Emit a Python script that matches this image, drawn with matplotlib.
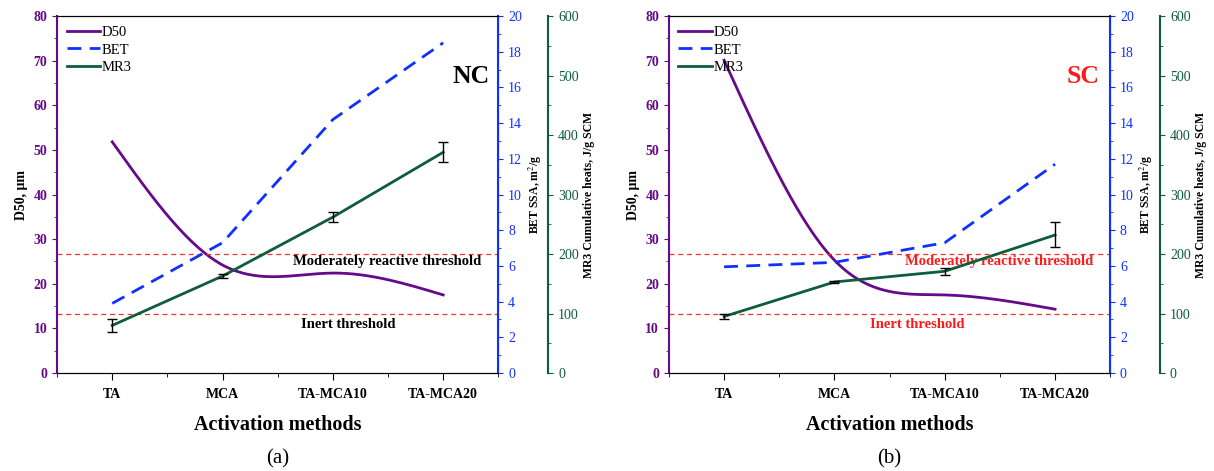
import numpy as np
import matplotlib.pyplot as plt

plt.rcParams['font.family'] = ['Liberation Serif', 'DejaVu Serif']
plt.rcParams['mathtext.fontset'] = 'stix'

methods = ["TA", "MCA", "TA-MCA10", "TA-MCA20"]

# panel (a) NC
nc_d50 = [51.8, 24.2, 22.4, 17.5]
nc_bet = [3.9, 7.3, 14.2, 18.5]
nc_mr3 = [80, 163, 262, 371]
nc_mr3_err = [11, 4, 9, 17]

# panel (b) SC
sc_d50 = [70.1, 25.3, 17.5, 14.3]
sc_bet = [5.95, 6.2, 7.3, 11.7]
sc_mr3 = [95, 153, 171, 232]
sc_mr3_err = [5, 2, 6, 21]

inert_mr3 = 100
moderate_mr3 = 200

purple = '#650a8a'
blue = '#1030ff'
green = '#0d5c3a'


def spline(xs, ys, n=200):
    # natural cubic spline, only used to draw the smooth D50 line through the points
    xs = np.asarray(xs, float)
    ys = np.asarray(ys, float)
    k = len(xs)
    h = np.diff(xs)
    A = np.zeros((k, k))
    b = np.zeros(k)
    A[0, 0] = 1
    A[-1, -1] = 1
    for i in range(1, k - 1):
        A[i, i - 1] = h[i - 1]
        A[i, i] = 2 * (h[i - 1] + h[i])
        A[i, i + 1] = h[i]
        b[i] = 6 * ((ys[i + 1] - ys[i]) / h[i] - (ys[i] - ys[i - 1]) / h[i - 1])
    m = np.linalg.solve(A, b)
    xx = np.linspace(xs[0], xs[-1], n)
    yy = np.zeros_like(xx)
    for j, x in enumerate(xx):
        i = min(np.searchsorted(xs, x, side='right') - 1, k - 2)
        t = x - xs[i]
        hi = h[i]
        bb = (ys[i + 1] - ys[i]) / hi - hi * (2 * m[i] + m[i + 1]) / 6
        yy[j] = ys[i] + bb * t + m[i] / 2 * t ** 2 + (m[i + 1] - m[i]) / (6 * hi) * t ** 3
    return xx, yy


def panel(left, d50, bet, mr3, err, tag, txt_color, letter):
    w = 0.3635
    ax = fig.add_axes([left, 0.208, w, 0.758])
    x = np.arange(len(methods))
    xx, yy = spline(x, d50)
    l1, = ax.plot(xx, yy, color=purple, lw=2, label='D50')
    ax.set_xlim(-0.5, 3.5)
    ax.set_ylim(0, 80)
    ax.set_xticks(x)
    ax.set_xticklabels(methods, fontsize=10, fontweight='bold')
    ax.set_xticks(np.arange(-0.5, 3.6, 0.5), minor=True)
    ax.set_yticks(np.arange(0, 81, 10))
    ax.set_yticks(np.arange(0, 81, 5), minor=True)
    ax.tick_params(axis='y', which='both', colors=purple, direction='out')
    ax.tick_params(axis='y', labelsize=10)
    for lab in ax.get_yticklabels():
        lab.set_fontweight('bold')
    ax.tick_params(axis='x', which='major', length=5, pad=6)
    ax.tick_params(axis='x', which='minor', length=3)
    ax.spines['left'].set_color(purple)
    ax.spines['left'].set_linewidth(1.5)
    ax.set_ylabel('D50, μm', fontsize=10, fontweight='bold', labelpad=4)
    ax.set_xlabel('Activation methods', fontsize=14.5, fontweight='bold', labelpad=10)

    for v in [inert_mr3, moderate_mr3]:
        ax.axhline(v / 600 * 80, color='#ee3333', ls=(0, (4, 3)), lw=0.9)
    ax.text(2.49, 24.9, 'Moderately reactive threshold', color=txt_color,
            fontsize=10.5, fontweight='bold', ha='center', va='center')
    ax.text(2.14 if tag == 'NC' else 1.75, 10.8, 'Inert threshold', color=txt_color,
            fontsize=10.5, fontweight='bold', ha='center', va='center')
    ax.text(3.25, 66.5, tag, color=txt_color, fontsize=18.5, fontweight='bold',
            ha='center', va='center')

    ax2 = ax.twinx()
    l2, = ax2.plot(x, bet, color=blue, lw=2, ls=(0, (5, 3)), label='BET')
    ax2.set_ylim(0, 20)
    ax2.set_yticks(np.arange(0, 21, 2))
    ax2.set_yticks(np.arange(0, 21, 1), minor=True)
    ax2.tick_params(axis='y', which='both', colors=blue, labelsize=10)
    ax2.spines['right'].set_color(blue)
    ax2.spines['right'].set_linewidth(1.5)
    ax2.spines['left'].set_visible(False)
    ax2.set_ylabel('BET SSA, m$^2$/g', fontsize=8.5, fontweight='bold', labelpad=3)

    ax3 = ax.twinx()
    ax3.spines['right'].set_position(('axes', 1 + 50 / 441))
    ax3.spines['left'].set_visible(False)
    ax3.spines['top'].set_visible(False)
    ax3.spines['bottom'].set_visible(False)
    l3, = ax3.plot(x, mr3, color=green, lw=2, label='MR3', zorder=3)
    ax3.errorbar(x, mr3, yerr=err, fmt='none', ecolor='black', elinewidth=1,
                 capsize=3.5, capthick=1, zorder=4)
    ax3.set_ylim(0, 600)
    ax3.set_yticks(np.arange(0, 601, 100))
    ax3.set_yticks(np.arange(0, 601, 50), minor=True)
    ax3.tick_params(axis='y', which='both', colors=green, labelsize=10)
    ax3.spines['right'].set_color(green)
    ax3.spines['right'].set_linewidth(1.5)
    ax3.set_ylabel('MR3 Cumulative heats, J/g SCM', fontsize=8.5,
                   fontweight='bold', labelpad=3)

    ax.legend([l1, l2, l3], ['D50', 'BET', 'MR3'], loc='upper left', frameon=False,
              fontsize=10.5, handlelength=2.3, handletextpad=0.1, labelspacing=0.32,
              borderaxespad=0.35, borderpad=0.3)
    fig.text(left + w / 2, 0.005, letter, fontsize=15, ha='center', va='bottom')


fig = plt.figure(figsize=(12.14, 4.71), dpi=100)
panel(0.047, nc_d50, nc_bet, nc_mr3, nc_mr3_err, 'NC', 'black', '(a)')
panel(0.551, sc_d50, sc_bet, sc_mr3, sc_mr3_err, 'SC', '#ff1a1a', '(b)')
fig.savefig('out.png', dpi=100)
